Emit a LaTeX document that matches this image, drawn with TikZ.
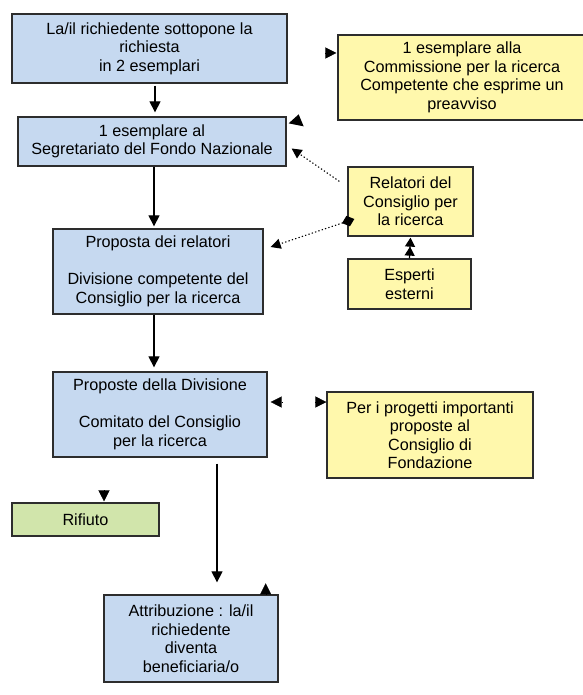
\documentclass[tikz,border=0pt]{standalone}
\usepackage{fontspec}
\setmainfont{Liberation Sans}
\usetikzlibrary{arrows.meta,calc}

\definecolor{boxblue}{RGB}{198,217,240}
\definecolor{boxyellow}{RGB}{255,248,172}
\definecolor{boxgreen}{RGB}{209,229,171}
\definecolor{edge}{RGB}{45,45,45}

\tikzset{
  flowbox/.style={draw=edge, line width=1.3pt, inner sep=0pt, align=center,
    font=\fontsize{16.2}{18.5}\selectfont},
  bluebox/.style={flowbox, fill=boxblue},
  yellowbox/.style={flowbox, fill=boxyellow},
  greenbox/.style={flowbox, fill=boxgreen},
  arr/.style={line width=1.2pt, -{Triangle[width=11pt,length=11pt]}},
  tiponly/.style={line width=0.1pt, -{Triangle[width=11pt,length=11pt]}},
  dotarr/.style={line width=1.1pt, dash pattern=on 1.3pt off 2.2pt,
    -{Triangle[width=10pt,length=10pt]}},
  lonehead/.style={fill=black, draw=none},
}

\begin{document}
\begin{tikzpicture}[x=1pt,y=-1pt]
\useasboundingbox (0,0) rectangle (582,695);

% main column
\node[bluebox, minimum width=275pt, minimum height=69pt] (b1) at (149.5,48.5)
  {La/il richiedente sottopone la\\richiesta\\in 2 esemplari};
\node[bluebox, minimum width=268pt, minimum height=49pt] (b2) at (152,141.5)
  {1 esemplare al\\Segretariato del Fondo Nazionale};
\node[bluebox, minimum width=210pt, minimum height=85pt] (b3) at (158,271.5)
  {Proposta dei relatori\\[18.5pt]Divisione competente del\\Consiglio per la ricerca};
\node[bluebox, minimum width=214pt, minimum height=85pt] (b4) at (160,414.5)
  {Proposte della Divisione\\[18.5pt]Comitato del Consiglio\\per la ricerca};
\node[greenbox, minimum width=147pt, minimum height=33pt] (rif) at (85.5,519.5)
  {Rifiuto};
\node[bluebox, minimum width=174pt, minimum height=87pt] (b5) at (191,638.5)
  {Attribuzione : la/il\\richiedente\\diventa\\beneficiaria/o};

% side boxes
\node[yellowbox, minimum width=248pt, minimum height=85pt] (y1) at (462,77.5)
  {1 esemplare alla\\Commissione per la ricerca\\Competente che esprime un\\preavviso};
\node[yellowbox, minimum width=125pt, minimum height=69pt] (rel) at (410.5,201.5)
  {Relatori del\\Consiglio per\\la ricerca};
\node[yellowbox, minimum width=123pt, minimum height=50pt] (esp) at (409.5,284)
  {Esperti\\esterni};
\node[yellowbox, minimum width=206pt, minimum height=86pt] (y4) at (430,435)
  {Per i progetti importanti\\proposte al\\Consiglio di\\Fondazione};

% solid flow arrows
\draw[arr, shorten <=2pt, shorten >=4pt] ([xshift=5.5pt]b1.south) -- ([xshift=5.5pt]b1.south |- b2.north);
\draw[arr, shorten >=2pt] ([xshift=2pt]b2.south) -- ([xshift=2pt]b2.south |- b3.north);
\draw[arr, shorten >=4pt] ([xshift=-4pt]b3.south) -- ([xshift=-4pt]b3.south |- b4.north);
\draw[arr, shorten <=6pt, shorten >=12pt] ([xshift=26pt]b5.north |- b4.south) -- ([xshift=26pt]b5.north);

% referees feed into the secretariat and the division
\draw[dotarr] ($(rel.north west)+(-8,15)$) -- ($(b2.east)+(5,7)$);
\draw[dotarr, {Diamond[width=11pt,length=13pt]}-{Triangle[width=10pt,length=10pt]}]
  ($(rel.west)+(7,17.5)$) -- ($(b3.east)+(7,-24.5)$);
\draw[line width=1.2pt, -{Triangle[width=10pt,length=9pt]Triangle[width=10pt,length=9pt]}, shorten >=1pt]
  (esp.north) -- (rel.south);

% stray arrowheads
\draw[tiponly] ($(y1.west)+(-12,-24.5)$) -- ($(y1.west)+(-1,-24.5)$);
\fill[lonehead] ($(b2.north east)+(12,-2)$) -- ($(b2.north east)+(2,7)$) -- ($(b2.north east)+(17,10)$) -- cycle;
\draw[tiponly] ($(b4.east)+(14,-12.5)$) -- ($(b4.east)+(3,-12.5)$);
\draw[tiponly] ($(y4.west)+(-11,-33)$) -- ($(y4.west)+(0,-33)$);
\draw[tiponly] ($(rif.north)+(18.5,-12)$) -- ($(rif.north)+(18.5,-1)$);
\draw[tiponly] ($(b5.north east)+(-13,0)$) -- ($(b5.north east)+(-13,-11)$);
\end{tikzpicture}
\end{document}
